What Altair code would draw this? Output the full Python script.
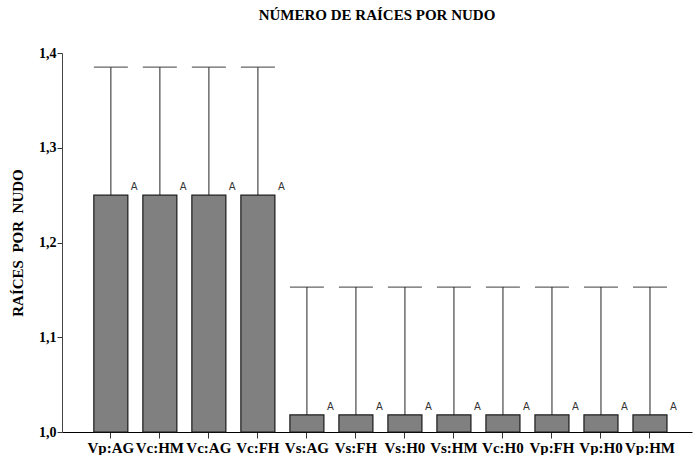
import altair as alt
import pandas as pd

# Treatments (in plotted order), mean roots per node and upper error limit
tratamientos = ["Vp:AG", "Vc:HM", "Vc:AG", "Vc:FH", "Vs:AG", "Vs:FH",
                "Vs:H0", "Vs:HM", "Vc:H0", "Vp:FH", "Vp:H0", "Vp:HM"]
medias = [1.25, 1.25, 1.25, 1.25, 1.018, 1.018,
          1.018, 1.018, 1.018, 1.018, 1.018, 1.018]
limite_sup = [1.385, 1.385, 1.385, 1.385, 1.153, 1.153,
              1.153, 1.153, 1.153, 1.153, 1.153, 1.153]
letras = ["A"] * 12

df = pd.DataFrame({"trat": tratamientos, "media": medias,
                   "sup": limite_sup, "letra": letras})

SERIF = "Liberation Serif"

x_scale = alt.Scale(paddingInner=0.306, paddingOuter=0.58, align=0.56)
x_axis = alt.Axis(title=None, labelAngle=0, labelFont=SERIF,
                  labelFontWeight="bold", labelFontSize=15,
                  labelColor="black", labelPadding=2, labelLimit=200,
                  tickSize=6, tickColor="#333", domainColor="black",
                  labelOverlap=False)
x = alt.X("trat:N", sort=tratamientos, scale=x_scale, axis=x_axis)

y_scale = alt.Scale(domain=[1.0, 1.4], nice=False, zero=False)
y_axis = alt.Axis(title="RAÍCES\u00a0 POR\u00a0 NUDO", values=[1.0, 1.1, 1.2, 1.3, 1.4],
                  labelExpr="replace(format(datum.value, '.1f'), '.', ',')",
                  labelFont=SERIF, labelFontWeight="bold", labelFontSize=14,
                  labelColor="black", labelPadding=1,
                  titleFont=SERIF, titleFontWeight="bold", titleFontSize=15,
                  titleColor="black", titlePadding=13,
                  tickSize=5, tickColor="#333", domainColor="#444",
                  grid=False)


def y_enc(campo):
    return alt.Y(campo, scale=y_scale, axis=y_axis)


base = alt.Chart(df)

# bars start at the bottom of the axis (1,0)
barras = base.mark_bar(color="#808080", stroke="#1a1a1a", strokeWidth=1.2).encode(
    x=x, y=y_enc("media:Q"), y2=alt.datum(1.0))

error = base.mark_rule(color="#555", strokeWidth=1.3).encode(
    x=x, y=y_enc("media:Q"), y2="sup:Q")

topes = base.mark_tick(color="#222", thickness=1.3, size=34, orient="horizontal").encode(
    x=x, y=y_enc("sup:Q"))

etiquetas = base.mark_text(font="DejaVu Sans", fontSize=10, color="#333",
                           align="left", baseline="bottom", dx=20, dy=-3).encode(
    x=x, y=y_enc("media:Q"), text="letra:N")

chart = alt.layer(error, barras, topes, etiquetas).properties(
    width=630, height=379,
    background="white",
    title=alt.TitleParams("NÚMERO DE RAÍCES POR NUDO", font=SERIF,
                          fontWeight="bold", fontSize=15, color="black",
                          anchor="middle", offset=23),
    autosize=alt.AutoSizeParams(type="none"),
    padding={"left": 62, "top": 53, "right": 3, "bottom": 23},
).configure_view(stroke=None)

chart.save("out.html", embed_options={"renderer": "svg", "actions": False})
